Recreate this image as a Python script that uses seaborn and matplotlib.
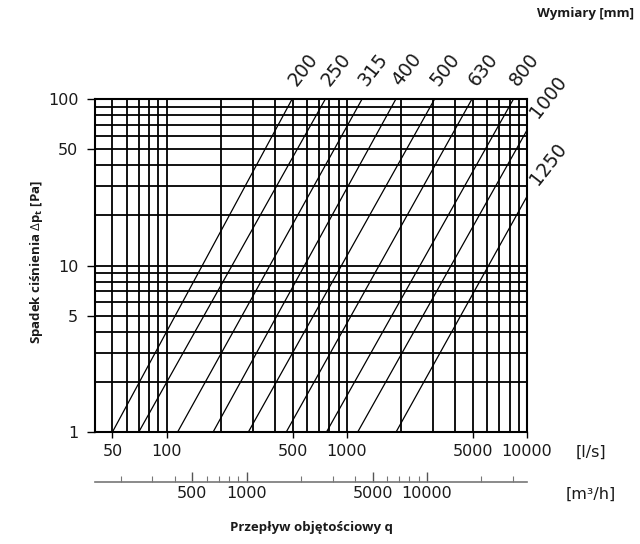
import numpy as np
import pandas as pd
import matplotlib
matplotlib.use('Agg')
import matplotlib.pyplot as plt
import seaborn as sns
from matplotlib.ticker import FixedLocator, FixedFormatter, LogLocator, NullFormatter

# duct sizes [mm] and the two ends of each line
sizes = ['200', '250', '315', '400', '500', '630', '800', '1000', '1250']
q_start = [50, 70, 115, 181, 284, 461, 771, 1149, 1876]        # l/s at 1 Pa
q_end = [497, 760, 1215, 1872, 3071, 4950, 8414, 10000, 10000]  # l/s at end
dp_end = [100, 100, 100, 100, 100, 100, 100, 65, 26]             # Pa at end

x_ticks = [50, 100, 500, 1000, 5000, 10000]
x_labels = ['50', '100', '500', '1000', '5000', '10000']
y_ticks = [1, 5, 10, 50, 100]
y_labels = ['1', '5', '10', '50', '100']
m3h_ticks = [500, 1000, 5000, 10000]
m3h_labels = ['500', '1000', '5000', '10000']
m3h_minor = [200, 300, 400, 600, 700, 800, 900, 2000, 3000, 4000,
             6000, 7000, 8000, 9000, 20000, 30000]

sns.set_theme(style='white')
plt.rcParams['font.family'] = ['DejaVu Sans']
plt.rcParams['mathtext.fontset'] = 'custom'
plt.rcParams['mathtext.rm'] = 'Open Sans'
plt.rcParams['mathtext.bf'] = 'Open Sans:bold'
plt.rcParams['text.color'] = '#1a1a1a'
bold_font = ['Open Sans', 'DejaVu Sans']

rows = []
for s, qa, qb, db in zip(sizes, q_start, q_end, dp_end):
    rows.append({'size': s, 'q': qa, 'dp': 1})
    rows.append({'size': s, 'q': qb, 'dp': db})
df = pd.DataFrame(rows)

fig = plt.figure(figsize=(6.4, 5.44), dpi=100)
ax = fig.add_axes([95 / 640, 1 - 432 / 544, 432 / 640, 333 / 544])

sns.lineplot(data=df, x='q', y='dp', units='size', estimator=None,
             color='black', lw=0.9, ax=ax, legend=False)
ax.set_xscale('log')
ax.set_yscale('log')
ax.set_xlim(40, 10000)
ax.set_ylim(1, 100)
ax.set_xlabel('')
ax.set_ylabel('')

ax.xaxis.set_major_locator(FixedLocator(x_ticks))
ax.xaxis.set_major_formatter(FixedFormatter(x_labels))
ax.xaxis.set_minor_locator(LogLocator(base=10, subs=np.arange(2, 10)))
ax.xaxis.set_minor_formatter(NullFormatter())
ax.yaxis.set_major_locator(FixedLocator(y_ticks))
ax.yaxis.set_major_formatter(FixedFormatter(y_labels))
ax.yaxis.set_minor_locator(LogLocator(base=10, subs=np.arange(2, 10)))
ax.yaxis.set_minor_formatter(NullFormatter())

ax.grid(which='both', color='black', lw=1.3)
ax.set_axisbelow(True)
ax.tick_params(which='minor', length=0)
ax.tick_params(axis='x', which='major', direction='out', length=4, width=1,
               color='black', labelsize=11.5, labelcolor='#1a1a1a', pad=5, bottom=True)
ax.tick_params(axis='y', which='major', direction='out', length=6, width=1,
               color='black', labelsize=11.5, labelcolor='#1a1a1a', pad=6, left=True)
for sp in ax.spines.values():
    sp.set_color('black')
    sp.set_linewidth(1.5)

# second flow scale in m3/h
sec = ax.secondary_xaxis(-0.15, functions=(lambda x: x * 3.6, lambda x: x / 3.6))
sec.set_xticks(m3h_ticks, labels=m3h_labels)
sec.set_xticks(m3h_minor, minor=True)
sec.spines['bottom'].set_color('#777777')
sec.spines['bottom'].set_linewidth(1.2)
sec.tick_params(which='major', direction='in', length=7, width=1,
                color='#555555', labelsize=11.5, labelcolor='#1a1a1a', pad=3)
sec.tick_params(which='minor', direction='in', length=4, width=0.8,
                color='#777777')

# size labels at the end of each line
for i, s in enumerate(sizes):
    if dp_end[i] >= 100:
        off = (11, 29)
    else:
        off = (21, 33)
    ax.annotate(s, xy=(q_end[i], dp_end[i]), xytext=off,
                textcoords='offset pixels', ha='center', va='center',
                rotation=52, fontsize=13.5, annotation_clip=False)

fig.text(591 / 640, 1 - 452 / 544, '[l/s]', ha='center', va='center', fontsize=11.5)
fig.text(591 / 640, 1 - 494 / 544, '[m³/h]', ha='center', va='center', fontsize=11.5)
fig.text(634 / 640, 1 - 13 / 544, 'Wymiary [mm]', ha='right', va='center',
         fontsize=9.5, fontweight='bold', family=bold_font)
fig.text(311 / 640, 1 - 527 / 544, 'Przepływ objętościowy q', ha='center',
         va='center', fontsize=9.5, fontweight='bold', family=bold_font)
fig.text(37 / 640, 1 - 262 / 544,
         r'Spadek ciśnienia $\Delta\mathbf{p}_\mathbf{t}$ [Pa]',
         ha='center', va='center', rotation=90, fontsize=9.5,
         fontweight='bold', family=bold_font)

fig.savefig('out.png', dpi=100, facecolor='white')
